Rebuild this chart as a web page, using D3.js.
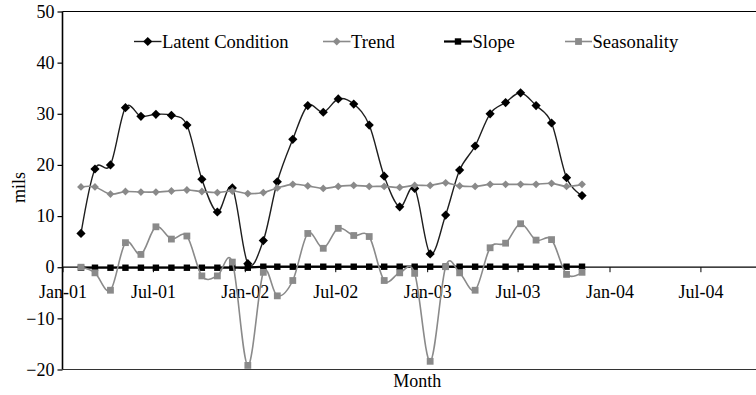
<!DOCTYPE html>
<html>
<head>
<meta charset="utf-8">
<script src="https://cdn.jsdelivr.net/npm/d3@7"></script>
<style>
  html, body { margin: 0; padding: 0; background: #fff; }
  svg { display: block; font-family: "Liberation Serif", "Times New Roman", serif; }
</style>
</head>
<body>
<svg id="chart" width="756" height="395"></svg>
<script>
// Monthly observation dates
const months = [
  "2001-02-07","2001-03-07","2001-04-07","2001-05-07","2001-06-07","2001-07-07",
  "2001-08-07","2001-09-07","2001-10-07","2001-11-07","2001-12-07",
  "2002-01-07","2002-02-07","2002-03-07","2002-04-07","2002-05-07","2002-06-07",
  "2002-07-07","2002-08-07","2002-09-07","2002-10-07","2002-11-07","2002-12-07",
  "2003-01-07","2003-02-07","2003-03-07","2003-04-07","2003-05-07","2003-06-07",
  "2003-07-07","2003-08-07","2003-09-07","2003-10-07","2003-11-07"
];

// Model components (mils)
const latent = [
  6.6, 19.2, 20.0, 31.2, 29.5, 29.9, 29.7, 27.8, 17.2, 10.8, 15.5,
  0.7, 5.2, 16.7, 25.0, 31.6, 30.3, 32.9, 31.9, 27.8, 17.8, 11.8, 15.4,
  2.6, 10.2, 19.0, 23.7, 30.0, 32.2, 34.1, 31.6, 28.2, 17.5, 14.0
];
const trend = [
  15.7, 15.7, 14.3, 14.8, 14.7, 14.7, 14.9, 15.1, 14.8, 14.6, 14.9,
  14.4, 14.6, 15.5, 16.2, 15.9, 15.4, 15.8, 16.0, 15.8, 15.8, 15.6, 16.0,
  16.0, 16.5, 15.9, 15.8, 16.2, 16.2, 16.2, 16.2, 16.4, 15.8, 16.2
];
const slope = [
  -0.1, -0.1, -0.1, -0.1, -0.1, -0.1, -0.1, -0.1, -0.1, -0.1, -0.1,
  -0.1, 0.1, 0.1, 0.1, 0.1, 0.1, 0.1, 0.1, 0.1, 0.1, 0.1, 0.1,
  0.1, 0.1, 0.1, 0.1, 0.1, 0.1, 0.1, 0.1, 0.1, 0.1, 0.1
];
const seasonality = [
  0.0, -1.1, -4.5, 4.8, 2.5, 7.9, 5.5, 6.1, -1.7, -1.7, 1.0,
  -19.2, -1.0, -5.6, -2.6, 6.6, 3.7, 7.6, 6.2, 6.0, -2.6, -1.1, -1.2,
  -18.4, 0.1, -1.1, -4.5, 3.8, 4.7, 8.5, 5.3, 5.4, -1.4, -1.0
];

const tickLabels = ["Jan-01","Jul-01","Jan-02","Jul-02","Jan-03","Jul-03","Jan-04","Jul-04"];
const yTicks = [-20, -10, 0, 10, 20, 30, 40, 50];

const seriesNames = ["Latent Condition", "Trend", "Slope", "Seasonality"];

// ---- layout ----
const svg = d3.select("#chart");
const plot = { left: 62.5, right: 772, top: 11.5, bottom: 369.5 };
const fontSize = 18;
const legendFontSize = 18.6;

const parseDate = d3.timeParse("%Y-%m-%d");
const parseTick = d3.timeParse("%b-%y");
const fmtTick = d3.timeFormat("%b-%y");

const dates = months.map(parseDate);
const tickDates = tickLabels.map(parseTick);

const x = d3.scaleTime()
  .domain([parseTick("Jan-01"), parseTick("Jan-04")])
  .range([plot.left, 609.5]);
const y = d3.scaleLinear()
  .domain([-20, 50])
  .range([plot.bottom, plot.top]);

// plot frame (top and bottom edges)
svg.append("line")
  .attr("x1", plot.left).attr("x2", plot.right)
  .attr("y1", plot.top).attr("y2", plot.top)
  .attr("stroke", "#000").attr("stroke-width", 1.2);
svg.append("line")
  .attr("x1", plot.left).attr("x2", plot.right)
  .attr("y1", plot.bottom).attr("y2", plot.bottom)
  .attr("stroke", "#333").attr("stroke-width", 1.2);

// y axis
const yAxis = svg.append("g")
  .attr("transform", `translate(${plot.left},0)`)
  .call(d3.axisLeft(y).tickValues(yTicks).tickSize(5).tickPadding(3).tickFormat(d3.format("d")));
yAxis.select(".domain").attr("stroke", "#000").attr("stroke-width", 1.6).attr("d", `M0,${plot.bottom}V${plot.top}`);
yAxis.selectAll(".tick line").attr("stroke", "#000").attr("stroke-width", 1.2);
yAxis.selectAll(".tick text")
  .attr("font-size", fontSize).attr("font-family", "Liberation Serif, serif").attr("fill", "#000");

// x axis at zero
const xAxis = svg.append("g")
  .attr("transform", `translate(0,${y(0)})`)
  .call(d3.axisBottom(x).tickValues(tickDates).tickSize(5).tickPadding(13).tickFormat(fmtTick));
xAxis.select(".domain").attr("stroke", "#000").attr("stroke-width", 1.2).attr("d", `M${plot.left},0H${plot.right}`);
xAxis.selectAll(".tick line").attr("stroke", "#000").attr("stroke-width", 1);
xAxis.selectAll(".tick text")
  .attr("font-size", fontSize).attr("font-family", "Liberation Serif, serif").attr("fill", "#000");

// axis titles
svg.append("text")
  .attr("transform", `translate(25,${(plot.top + plot.bottom) / 2 - 3}) rotate(-90)`)
  .attr("text-anchor", "middle")
  .attr("font-size", fontSize)
  .text("mils");
svg.append("text")
  .attr("x", (plot.left + plot.right) / 2)
  .attr("y", 387)
  .attr("text-anchor", "middle")
  .attr("font-size", fontSize)
  .text("Month");

// marker shapes
const diamond = "M0,-4.6L4.6,0L0,4.6L-4.6,0Z";
const square = s => `M${-s},${-s}H${s}V${s}H${-s}Z`;

const series = [
  { name: seriesNames[0], values: latent, line: "#1e1e1e", width: 1.4, fill: "#000", marker: diamond },
  { name: seriesNames[1], values: trend, line: "#8a8a8a", width: 1.6, fill: "#8a8a8a", marker: "M0,-3.9L3.9,0L0,3.9L-3.9,0Z" },
  { name: seriesNames[2], values: slope, line: "#000", width: 2.2, fill: "#000", marker: square(3.2) },
  { name: seriesNames[3], values: seasonality, line: "#8a8a8a", width: 1.6, fill: "#8a8a8a", marker: square(3.4) }
];

const lineGen = d3.line()
  .x((d, i) => x(dates[i]))
  .y(d => y(d))
  .curve(d3.curveCatmullRom.alpha(0));

series.forEach(s => {
  const g = svg.append("g");
  g.append("path")
    .datum(s.values)
    .attr("d", lineGen)
    .attr("fill", "none")
    .attr("stroke", s.line)
    .attr("stroke-width", s.width);
  g.selectAll("path.mk")
    .data(s.values)
    .join("path")
    .attr("class", "mk")
    .attr("d", s.marker)
    .attr("transform", (d, i) => `translate(${x(dates[i])},${y(d)})`)
    .attr("fill", s.fill);
});

// legend
const legendPos = [
  { x0: 134, x1: 161.5 },
  { x0: 323, x1: 350.5 },
  { x0: 444, x1: 472 },
  { x0: 565, x1: 592 }
];
const legendY = 41.5;
series.forEach((s, i) => {
  const p = legendPos[i];
  const g = svg.append("g");
  g.append("line")
    .attr("x1", p.x0).attr("x2", p.x1)
    .attr("y1", legendY).attr("y2", legendY)
    .attr("stroke", s.line).attr("stroke-width", s.width);
  g.append("path")
    .attr("d", s.marker)
    .attr("transform", `translate(${(p.x0 + p.x1) / 2},${legendY})`)
    .attr("fill", s.fill);
  g.append("text")
    .attr("x", p.x1 + 0.5)
    .attr("y", 47.5)
    .attr("font-size", legendFontSize)
    .text(s.name);
});
</script>
</body>
</html>
